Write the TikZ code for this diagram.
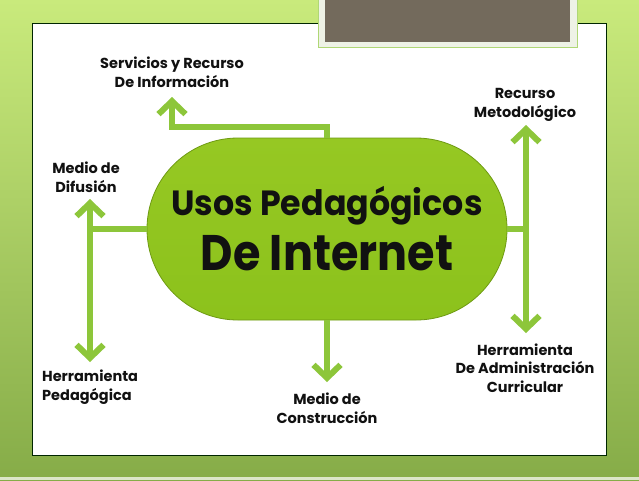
\documentclass[tikz,border=0pt]{standalone}
\usepackage{fontspec}
\setmainfont{Poppins}
\usetikzlibrary{arrows.meta}
\definecolor{bgtop}{HTML}{C9EA7C}
\definecolor{bgbot}{HTML}{86AC48}
\definecolor{coregreen}{HTML}{8CC21C}
\definecolor{coretop}{HTML}{96C823}
\definecolor{coreedge}{HTML}{6E9A12}
\definecolor{arrgreen}{HTML}{8DC63A}
\definecolor{slate}{HTML}{736A5C}
\definecolor{paleframe}{HTML}{EEF2E6}
\definecolor{txt}{HTML}{111111}
\tikzset{
  barb/.tip={Straight Barb[length=13pt,width=27pt,line width=6pt]},
  conn/.style={draw=arrgreen, line width=6pt},
  tipped/.style={conn, -barb},
  twotipped/.style={conn, barb-barb},
  lbl/.style={inner sep=0pt, text=txt, font=\bfseries\fontsize{14.5}{18.5}\selectfont},
}
\begin{document}
\begin{tikzpicture}[x=1pt,y=-1pt]
\useasboundingbox (0,0) rectangle (639,480);
% background
\shade[top color=bgtop, bottom color=bgbot] (0,0) rectangle (639,480);
\fill[white!70!bgbot] (0,477) rectangle (639,480);
% white panel
\fill[white] (32,23) rectangle (606,455);
\draw[black!85!green, line width=1pt] (32,23) rectangle (606,455);
% gray title box
\fill[paleframe] (318,-2) rectangle (577,47);
\draw[arrgreen!70, line width=0.8pt] (318,-2) rectangle (577,47);
\fill[slate] (325,-2) rectangle (570,42);
% central node
\node[draw=coreedge, line width=0.8pt, top color=coretop, bottom color=coregreen, minimum width=360pt, minimum height=182pt,
      rounded corners=91pt, inner sep=0pt, align=center, text=txt,
      font=\bfseries\fontsize{35}{55}\selectfont] (core) at (327,229)
  {\scalebox{0.95}[1]{Usos Pedagógicos}\\{\fontsize{50}{55}\selectfont\scalebox{0.89}[1]{De Internet}}};
% coordinates
\coordinate (topturn1) at (327,127);
\coordinate (topturn2) at (172,127);
\coordinate (toptip) at (172,97);
\coordinate (ljoin) at (90,229);
\coordinate (ltop) at (90,199);
\coordinate (lbot) at (90,362);
\coordinate (rjoin) at (526,229);
\coordinate (rtop) at (526,125);
\coordinate (rbot) at (526,333);
\coordinate (btip) at (327,382);
% connectors
\draw[tipped] (core.north) -- (topturn1) -- (topturn2) -- (toptip);
\draw[conn] (core.west) -- (ljoin);
\draw[twotipped] (ltop) -- (lbot);
\draw[conn] (core.east) -- (rjoin);
\draw[twotipped] (rtop) -- (rbot);
\draw[tipped] (core.south) -- (btip);
% labels (anchor = baseline of the last line)
\node[lbl, align=center, anchor=base] (serv) at (172,87) {Servicios y Recurso\\De Información};
\node[lbl, align=center, anchor=base] (difu) at (86,192) {Medio de\\Difusión};
\node[lbl, align=left, anchor=base west] (herp) at (42,400) {Herramienta\\Pedagógica};
\node[lbl, align=center, anchor=base] (cons) at (327,423) {Medio de\\Construcción};
\node[lbl, align=center, anchor=base] (admin) at (525,392) {Herramienta\\De Administración\\Curricular};
\node[lbl, align=center, anchor=base] (meto) at (525,117) {Recurso\\Metodológico};
\end{tikzpicture}
\end{document}
